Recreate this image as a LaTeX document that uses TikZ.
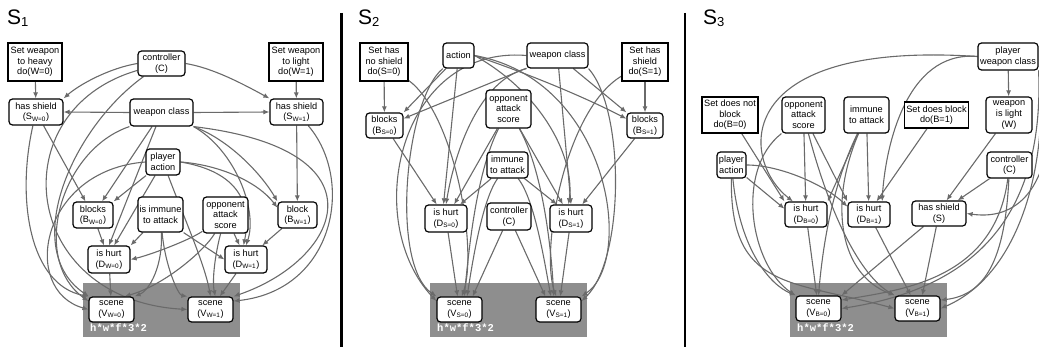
\documentclass[tikz,border=0pt]{standalone}
\usepackage{fontspec}
\setmainfont{Liberation Sans}
\setmonofont{Liberation Mono}
\usetikzlibrary{arrows.meta}
\pgfdeclarelayer{back}
\pgfdeclarelayer{links}
\pgfsetlayers{back,links,main}
\definecolor{linkgray}{HTML}{6A6A6A}
\definecolor{scenegray}{HTML}{8E8E8E}
\newcommand{\panelsub}[1]{{\fontsize{13}{13}\selectfont\raisebox{-1.5pt}{#1}}}
\tikzset{
  var/.style={draw, rounded corners=3.5pt, line width=1.2pt, fill=white, align=center,
    inner sep=1.5pt, font=\fontsize{9.2}{10.6}\selectfont},
  dobox/.style={var, sharp corners},
  sz/.style 2 args={minimum width=#1pt, minimum height=#2pt},
  causal/.style={linkgray, line width=1.1pt, -{Latex[length=6pt,width=5pt]}},
  cost/.style={anchor=base west, text=white, inner sep=0pt,
    font=\fontsize{10.5}{10.5}\selectfont\ttfamily\bfseries},
  paneltitle/.style={anchor=base west, inner sep=0pt, font=\fontsize{21}{21}\selectfont},
  divider/.style={line width=2.2pt}
}
\begin{document}
\begin{tikzpicture}[x=1pt,y=-1pt]
\useasboundingbox (0,0) rectangle (1039,347);

\node[paneltitle] (ttlA) at (7,25) {S\panelsub{1}};
\node[paneltitle] (ttlB) at (358,25) {S\panelsub{2}};
\node[paneltitle] (ttlC) at (703,25) {S\panelsub{3}};
\draw[divider] (341.5,13) -- (341.5,347);
\draw[divider] (685,13) -- (685,347);

\begin{pgfonlayer}{back}
\foreach \x in {83,430,790}{
  \fill[scenegray] (\x,283) rectangle ++(157,54);
  \node[cost] (cost\x) at (\x+7,332) {h*w*f*3*2};
}
\end{pgfonlayer}

% S1
\node[dobox, sz={54}{38}] (doW0) at (35,62) {Set weapon\\to heavy\\do(W=0)};
\node[var, sz={47}{25}] (ctrlA) at (161.5,63.5) {controller\\(C)};
\node[dobox, sz={54}{38}] (doW1) at (296,62) {Set weapon\\to light\\do(W=1)};
\node[var, sz={54}{26}] (hsW0) at (36,112) {has shield\\(S\textsubscript{W=0})};
\node[var, sz={63}{27}] (wcA) at (161.5,112.5) {weapon class};
\node[var, sz={53}{26}] (hsW1) at (296.5,112) {has shield\\(S\textsubscript{W=1})};
\node[var, sz={34}{26}] (actA) at (163,162) {player\\action};
\node[var, sz={40}{26}] (blW0) at (93,215) {blocks\\(B\textsubscript{W=0})};
\node[var, sz={45}{35}] (immA) at (160.5,214.5) {is immune\\to attack};
\node[var, sz={45}{36}] (oppA) at (225.5,215) {opponent\\attack\\score};
\node[var, sz={39}{26}] (blW1) at (297.5,215) {block\\(B\textsubscript{W=1})};
\node[var, sz={42}{27}] (huW0) at (109,259.5) {is hurt\\(D\textsubscript{W=0})};
\node[var, sz={42}{27}] (huW1) at (246,259.5) {is hurt\\(D\textsubscript{W=1})};
\node[var, sz={45}{25}] (scW0) at (111.5,309.5) {scene\\(V\textsubscript{W=0})};
\node[var, sz={45}{25}] (scW1) at (210.5,309.5) {scene\\(V\textsubscript{W=1})};

% S2
\node[dobox, sz={48}{38}] (doS0) at (384,62) {Set has\\no shield\\do(S=0)};
\node[var, sz={31}{25}] (actB) at (458.5,55.5) {action};
\node[var, sz={61}{25}] (wcB) at (557.5,55.5) {weapon class};
\node[dobox, sz={46}{38}] (doS1) at (645,62) {Set has\\shield\\do(S=1)};
\node[var, sz={37}{25}] (blS0) at (384.5,125.5) {blocks\\(B\textsubscript{S=0})};
\node[var, sz={45}{38}] (oppB) at (508.5,109) {opponent\\attack\\score};
\node[var, sz={36}{25}] (blS1) at (645,125.5) {blocks\\(B\textsubscript{S=1})};
\node[var, sz={41}{26}] (immB) at (507.5,165) {immune\\to attack};
\node[var, sz={42}{27}] (huS0) at (446,218.5) {is hurt\\(D\textsubscript{S=0})};
\node[var, sz={44}{27}] (ctrlB) at (509,216.5) {controller\\(C)};
\node[var, sz={42}{27}] (huS1) at (571,218.5) {is hurt\\(D\textsubscript{S=1})};
\node[var, sz={45}{25}] (scS0) at (459.5,309.5) {scene\\(V\textsubscript{S=0})};
\node[var, sz={45}{25}] (scS1) at (558.5,309.5) {scene\\(V\textsubscript{S=1})};

% S3
\node[var, sz={60}{27}] (pwcC) at (1008,56.5) {player\\weapon class};
\node[dobox, sz={56}{36}] (doB0) at (730,115) {Set does not\\block\\do(B=0)};
\node[var, sz={43}{36}] (oppC) at (803.5,115) {opponent\\attack\\score};
\node[var, sz={45}{36}] (immC) at (866.5,115) {immune\\to attack};
\node[dobox, sz={59}{26}] (doB1) at (936.5,115) {Set does block\\do(B=1)};
\node[var, sz={46}{36}] (wlC) at (1009,115) {weapon\\is light\\(W)};
\node[var, sz={29}{26}] (actC) at (731.5,165) {player\\action};
\node[var, sz={45}{26}] (ctrlC) at (1009.5,165) {controller\\(C)};
\node[var, sz={42}{25}] (huB0) at (806,214.5) {is hurt\\(D\textsubscript{B=0})};
\node[var, sz={42}{25}] (huB1) at (869,214.5) {is hurt\\(D\textsubscript{B=1})};
\node[var, sz={54}{25}] (hsC) at (939,213.5) {has shield\\(S)};
\node[var, sz={45}{25}] (scB0) at (818.5,308.5) {scene\\(V\textsubscript{B=0})};
\node[var, sz={45}{25}] (scB1) at (917.5,308.5) {scene\\(V\textsubscript{B=1})};

\begin{pgfonlayer}{links}
% S1
\draw[causal] (doW0) -- (hsW0);
\draw[causal] (doW1) -- (hsW1);
\draw[causal] (ctrlA.west) .. controls (110,68) and (80,84) .. (hsW0.north east);
\draw[causal] (ctrlA.east) .. controls (213,68) and (243,84) .. (hsW1.north west);
\draw[causal] (wcA.west) -- (hsW0.east);
\draw[causal] (wcA.east) -- (hsW1.west);
\draw[causal] (hsW0) -- (blW0);
\draw[causal] (hsW0) .. controls (16,200) and (30,285) .. (scW0.north west);
\draw[causal] (hsW1) -- (blW1);
\draw[causal] (hsW1) .. controls (355,180) and (335,290) .. (scW1.20);
\draw[causal] (ctrlA) .. controls (70,130) and (20,250) .. (scW0.150);
\draw[causal] (ctrlA) .. controls (0,110) and (20,300) .. (scW1.west);
\draw[causal] (wcA) -- (blW0);
\draw[causal] (wcA) -- (huW0.north);
\draw[causal] (wcA.south west) .. controls (60,150) and (30,260) .. (scW0.160);
\draw[causal] (wcA.south east) .. controls (230,140) and (262,175) .. (blW1.north west);
\draw[causal] (wcA.south east) .. controls (235,150) and (258,210) .. (huW1.north);
\draw[causal] (wcA.south east) .. controls (390,150) and (340,260) .. (scW1.north east);
\draw[causal] (actA) -- (blW0.north east);
\draw[causal] (actA.east) .. controls (220,165) and (258,182) .. (blW1.160);
\draw[causal] (actA) -- (huW0.70);
\draw[causal] (actA.east) .. controls (240,172) and (252,205) .. (huW1.100);
\draw[causal] (actA.west) .. controls (40,170) and (20,290) .. (scW0.west);
\draw[causal] (actA) .. controls (185,220) and (205,265) .. (scW1.north);
\draw[causal] (blW0) -- (huW0);
\draw[causal] (blW1) -- (huW1);
\draw[causal] (immA) -- (huW0.north east);
\draw[causal] (immA.south east) -- (huW1.west);
\draw[causal] (immA) .. controls (163,265) and (150,290) .. (scW0.north east);
\draw[causal] (immA) .. controls (165,265) and (178,295) .. (scW1.north west);
\draw[causal] (oppA) .. controls (190,240) and (150,255) .. (huW0.east);
\draw[causal] (oppA) -- (huW1);
\draw[causal] (oppA) .. controls (205,250) and (165,285) .. (scW0.45);
\draw[causal] (oppA) .. controls (215,255) and (212,280) .. (scW1.70);
\draw[causal] (huW0) -- (scW0);
\draw[causal] (huW1) -- (scW1);
% S2
\draw[causal] (doS0) -- (blS0);
\draw[causal] (doS1) -- (blS1);
\draw[causal] (doS0) .. controls (455,115) and (478,250) .. (scS0.80);
\draw[causal] (doS1) .. controls (565,110) and (540,250) .. (scS1.100);
\draw[causal] (actB) -- (blS0.north east);
\draw[causal] (actB.east) .. controls (540,78) and (590,100) .. (blS1.160);
\draw[causal] (actB.east) .. controls (545,95) and (575,160) .. (huS1.100);
\draw[causal] (actB) -- (huS0.100);
\draw[causal] (actB) .. controls (405,100) and (390,265) .. (scS0.north west);
\draw[causal] (actB.east) .. controls (610,80) and (635,260) .. (scS1.north east);
\draw[causal] (wcB) -- (blS0.20);
\draw[causal] (wcB) -- (blS1.north west);
\draw[causal] (wcB.south west) .. controls (480,80) and (455,150) .. (huS0.north);
\draw[causal] (wcB) -- (huS1.north);
\draw[causal] (wcB.west) .. controls (400,45) and (360,220) .. (scS0.160);
\draw[causal] (wcB.south east) .. controls (625,110) and (625,260) .. (scS1.20);
\draw[causal] (blS0) -- (huS0);
\draw[causal] (blS1) -- (huS1);
\draw[causal] (oppB) -- (huS0.60);
\draw[causal] (oppB) -- (huS1.120);
\draw[causal] (oppB) .. controls (475,175) and (468,260) .. (scS0.70);
\draw[causal] (oppB) .. controls (545,175) and (552,260) .. (scS1.110);
\draw[causal] (immB) -- (huS0.45);
\draw[causal] (immB) -- (huS1.135);
\draw[causal] (immB) .. controls (482,200) and (472,265) .. (scS0.60);
\draw[causal] (immB) .. controls (535,200) and (545,265) .. (scS1.120);
\draw[causal] (ctrlB) -- (scS0.45);
\draw[causal] (ctrlB) -- (scS1.135);
\draw[causal] (huS0) -- (scS0);
\draw[causal] (huS1) -- (scS1);
% S3
\draw[causal] (pwcC) -- (wlC);
\draw[causal] (pwcC.west) .. controls (730,40) and (740,160) .. (huB0.135);
\draw[causal] (pwcC.west) .. controls (905,50) and (885,150) .. (huB1.45);
\draw[causal] (pwcC.south east) .. controls (1060,120) and (1050,225) .. (hsC.east);
\draw[causal] (pwcC.south east) .. controls (1048,140) and (1030,270) .. (scB1.east);
\draw[causal] (pwcC.south east) .. controls (1045,230) and (960,290) .. (scB0.east);
\draw[causal] (wlC) -- (hsC.60);
\draw[causal] (ctrlC) -- (hsC.35);
\draw[causal] (ctrlC) .. controls (1005,260) and (985,295) .. (scB1.20);
\draw[causal] (ctrlC) .. controls (995,280) and (900,290) .. (scB0.20);
\draw[causal] (doB0) -- (huB0.north west);
\draw[causal] (doB1) -- (huB1.60);
\draw[causal] (oppC) -- (huB0);
\draw[causal] (oppC) -- (huB1.north west);
\draw[causal] (oppC.south west) .. controls (735,170) and (750,265) .. (scB0.north west);
\draw[causal] (oppC) .. controls (830,215) and (860,275) .. (scB1.north west);
\draw[causal] (immC) -- (huB0.north east);
\draw[causal] (immC) -- (huB1);
\draw[causal] (immC) .. controls (830,190) and (822,255) .. (scB0.north);
\draw[causal] (immC) .. controls (828,205) and (840,275) .. (scB1.150);
\draw[causal] (actC) -- (huB0.165);
\draw[causal] (actC.east) .. controls (780,165) and (825,185) .. (huB1.160);
\draw[causal] (actC) .. controls (740,250) and (770,285) .. (scB0.150);
\draw[causal] (actC) .. controls (730,290) and (790,280) .. (scB1.west);
\draw[causal] (huB0) -- (scB0);
\draw[causal] (huB1) -- (scB1);
\draw[causal] (hsC) -- (scB0.north east);
\draw[causal] (hsC) -- (scB1.70);
\end{pgfonlayer}
\end{tikzpicture}
\end{document}
